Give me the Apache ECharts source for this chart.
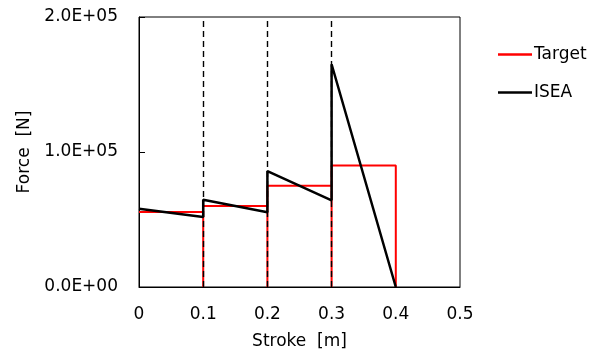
<!DOCTYPE html>
<html>
<head>
<meta charset="utf-8">
<script src="https://cdn.jsdelivr.net/npm/echarts@6/dist/echarts.min.js"></script>
<style>
  html, body { margin: 0; padding: 0; background: #fff; }
  #chart { width: 590px; height: 351px; }
</style>
</head>
<body>
<div id="chart"></div>
<script>
// Target: stepped force per stroke segment
const targetStroke = [0, 0.1, 0.1, 0.1, 0.2, 0.2, 0.2, 0.3, 0.3, 0.3, 0.4, 0.4];
const targetForce = [55500, 55500, 0, 60000, 60000, 0, 75000, 75000, 0, 90000, 90000, 0];

// ISEA: saw-tooth response
const iseaStroke = [0, 0.1, 0.1, 0.2, 0.2, 0.3, 0.3, 0.4];
const iseaForce = [58000, 51800, 64700, 55300, 85900, 64200, 165000, 0];

// Dashed segment boundaries
const boundaries = [0.1, 0.2, 0.3];

const xTicks = [0, 0.1, 0.2, 0.3, 0.4, 0.5];

const pairs = (xs, ys) => xs.map((x, i) => [x, ys[i]]);
const sci = (v) => {
  if (v === 0) return "0.0E+00";
  const e = Math.floor(Math.log10(Math.abs(v)));
  const m = v / Math.pow(10, e);
  return m.toFixed(1) + "E" + (e < 0 ? "-" : "+") + String(Math.abs(e)).padStart(2, "0");
};

const chart = echarts.init(document.getElementById("chart"));
const font = "DejaVu Sans, Verdana, sans-serif";
const fs = 17;

chart.setOption({
  animation: false,
  textStyle: { fontFamily: font },
  grid: {
    left: 139,
    right: 130,
    top: 17,
    bottom: 64,
    outerBoundsMode: "none",
    show: true,
    borderColor: "#000",
    borderWidth: 1,
  },
  legend: {
    orient: "vertical",
    left: 493,
    top: 41,
    itemGap: 21,
    itemWidth: 34,
    itemHeight: 2.5,
    icon: "rect",
    textStyle: { fontSize: fs, color: "#000", fontFamily: font, padding: [0, 0, 0, -3] },
    data: ["Target", "ISEA"],
  },
  xAxis: {
    type: "value",
    min: 0,
    max: 0.5,
    interval: 0.1,
    name: "Stroke  [m]",
    nameLocation: "middle",
    nameGap: 46,
    nameTextStyle: { fontSize: fs, color: "#000", fontFamily: font },
    axisLine: { show: true, lineStyle: { color: "#000" } },
    axisTick: { show: false },
    splitLine: { show: false },
    axisLabel: {
      fontSize: fs,
      color: "#000",
      margin: 19,
      formatter: (v) => {
        const t = xTicks.find((x) => Math.abs(x - v) < 1e-9);
        return t === undefined ? "" : String(t);
      },
    },
  },
  yAxis: {
    type: "value",
    min: 0,
    max: 200000,
    interval: 100000,
    name: "Force  [N]",
    nameLocation: "middle",
    nameGap: 106,
    nameTextStyle: { fontSize: fs, color: "#000", fontFamily: font },
    axisLine: { show: true, lineStyle: { color: "#000" } },
    axisTick: { show: true, inside: true, length: 6, lineStyle: { color: "#000" } },
    splitLine: { show: false },
    axisLabel: { fontSize: fs, color: "#000", margin: 21, formatter: sci },
  },
  series: [
    {
      name: "Target",
      type: "line",
      data: pairs(targetStroke, targetForce),
      showSymbol: false,
      symbol: "none",
      lineStyle: { color: "#ff0000", width: 2 },
      itemStyle: { color: "#ff0000" },
      z: 1,
    },
    {
      name: "Bounds",
      type: "line",
      data: [],
      z: 2,
      markLine: {
        silent: true,
        symbol: "none",
        label: { show: false },
        lineStyle: { color: "#000", type: [6, 4], width: 1.4 },
        data: boundaries.map((b) => ({ xAxis: b })),
      },
    },
    {
      name: "ISEA",
      type: "line",
      data: pairs(iseaStroke, iseaForce),
      showSymbol: false,
      symbol: "none",
      lineStyle: { color: "#000", width: 2.5 },
      itemStyle: { color: "#000" },
      z: 3,
    },
  ],
});
</script>
</body>
</html>
